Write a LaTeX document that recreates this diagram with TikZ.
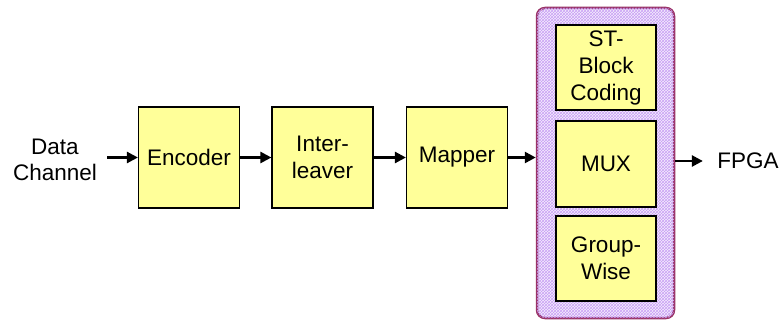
\documentclass[tikz,border=0pt]{standalone}
\usepackage{fontspec}
\setmainfont{Liberation Sans}
\usetikzlibrary{arrows.meta,patterns,positioning}
\definecolor{boxfill}{HTML}{FFFF99}
\definecolor{stackline}{HTML}{993366}
\definecolor{stackhatch}{HTML}{C9A0F5}
\tikzset{
	blockbox/.style={draw, line width=1.2pt, fill=boxfill, minimum width=101pt, minimum height=101pt, align=center, font=\fontsize{22.5}{27}\selectfont},
	flow/.style={-{Triangle[length=11pt,width=11pt]}, line width=2.5pt},
	plain/.style={align=center, font=\fontsize{22.5}{26}\selectfont},
}
\begin{document}
\begin{tikzpicture}[x=1pt,y=-1pt]
			\useasboundingbox (0,0) rectangle (783,320);
			\node[draw=stackline, line width=2.5pt, rounded corners=8pt, fill=stackhatch!18, postaction={pattern=crosshatch, pattern color=stackhatch}, minimum width=137pt, minimum height=310pt] (stack) at (605.5,163) {};
			\node[blockbox] (enc) at (189,157.5) {Encoder};
			\node[blockbox] (intl) at (322.5,157.5) {Inter-\\leaver};
			\node[blockbox] (map) at (457,157.5) {Mapper};
			\node[blockbox, minimum width=100pt, minimum height=85pt] (stbc) at (606,67.5) {ST-\\Block\\Coding};
			\node[blockbox, minimum width=100pt, minimum height=86pt] (mux) at (606,164) {MUX};
			\node[blockbox, minimum width=100pt, minimum height=85pt] (gw) at (606,258.5) {Group-\\Wise};
			\node[plain] (data) at (55,160) {Data\\Channel};
			\node[plain] (fpga) at (748,161) {FPGA};
			\draw[flow, shorten <=7pt] (data.east |- enc) -- (enc.west);
			\draw[flow] (enc) -- (intl);
			\draw[flow] (intl) -- (map);
			\draw[flow] (map.east) -- (map.east -| stack.west);
			\draw[flow, shorten >=11pt] (stack.east |- fpga.west) -- (fpga.west);
		\end{tikzpicture}
\end{document}
